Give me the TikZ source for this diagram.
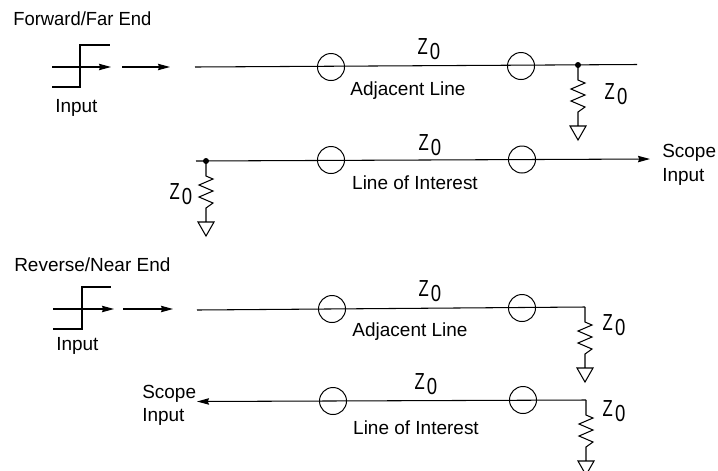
\documentclass[tikz,border=0pt]{standalone}
\usepackage{fontspec}
\setmainfont{Liberation Sans}
\usetikzlibrary{arrows.meta}
\newcommand{\zohm}{\scalebox{0.72}[1]{Z}\kern1.5pt\raisebox{-3.8pt}{\scalebox{0.8}[1]{0}}}
\tikzset{
  lbl/.style={font=\fontsize{13.5}{16}\selectfont,inner sep=0pt},
  zlbl/.style={font=\fontsize{16.5}{18}\selectfont,inner sep=0pt},
  tap/.style={circle,draw,line width=0.7pt,minimum size=0.675cm,inner sep=0pt},
  dot/.style={circle,fill,minimum size=0.15cm,inner sep=0pt},
  wire/.style={line width=0.75pt},
  feed/.style={line width=0.75pt,-{Stealth[length=0.3cm,width=0.16cm,inset=0.03cm]}},
  load/.pic={
    \draw[line width=0.75pt] (0,0)--++(0,15)--++(7,3)--++(-14,6)--++(14,6)--++(-14,6)--++(14,6)--++(-7,5)--++(0,14)
      ++(-8,0)--++(16,0)--++(-8,14)--cycle;
  }
}
\begin{document}
\begin{tikzpicture}[x=0.025cm,y=-0.025cm]
    \useasboundingbox (0,0) rectangle (718,470);
    % forward / far end
    \node[lbl,anchor=west] (titleA) at (13,19) {\scalebox{0.97}[1]{Forward/Far End}};
    \coordinate (stepAa) at (52,87);
    \coordinate (stepAb) at (110,45);
    \draw[wire] (stepAa)--(80,87)--(80,45)--(stepAb);
    \coordinate (inAa) at (52,67);
    \coordinate (inAb) at (111,67);
    \coordinate (inAc) at (122,67);
    \coordinate (inAd) at (170,67);
    \draw[feed] (inAa)--(inAb);
    \draw[feed] (inAc)--(inAd);
    \node[lbl,anchor=west] (inputA) at (55,108) {Input};

    \coordinate (adjAa) at (195,67);
    \coordinate (adjAb) at (637,64.5);
    \draw[wire] (adjAa)--(adjAb);
    \node[tap] (adjAl) at (331,67) {};
    \node[tap] (adjAr) at (521,66) {};
    \node[dot] (adjAd) at (578,65) {};
    \pic at (adjAd) {load};
    \node[zlbl] (zAa) at (429,49) {\zohm};
    \node[zlbl] (zAb) at (616,94) {\zohm};
    \node[lbl] (adjAt) at (408,91) {Adjacent Line};

    \coordinate (intAa) at (196,161);
    \coordinate (intAb) at (650,159);
    \draw[feed] (intAa)--(intAb);
    \node[tap] (intAl) at (331,160) {};
    \node[tap] (intAr) at (522,159.5) {};
    \node[dot] (intAd) at (206,161) {};
    \pic at (intAd) {load};
    \node[zlbl] (zAc) at (430,145) {\zohm};
    \node[zlbl] (zAd) at (181,194) {\zohm};
    \node[lbl] (intAt) at (415,183) {Line of Interest};
    \node[lbl,anchor=west] (scopeAa) at (662,153) {Scope};
    \node[lbl,anchor=west] (scopeAb) at (662,177) {Input};

    % reverse / near end
    \node[lbl,anchor=west] (titleB) at (14,265) {Reverse/Near End};
    \coordinate (stepBa) at (53,329);
    \coordinate (stepBb) at (111,287);
    \draw[wire] (stepBa)--(82,329)--(82,287)--(stepBb);
    \coordinate (inBa) at (53,309);
    \coordinate (inBb) at (114,309);
    \coordinate (inBc) at (123,309);
    \coordinate (inBd) at (173,309);
    \draw[feed] (inBa)--(inBb);
    \draw[feed] (inBc)--(inBd);
    \node[lbl,anchor=west] (inputB) at (56,346) {Input};

    \coordinate (adjBa) at (197,310);
    \coordinate (adjBb) at (585,307);
    \draw[wire] (adjBa)--(adjBb);
    \node[tap] (adjBl) at (332,309) {};
    \node[tap] (adjBr) at (522,308) {};
    \pic at (adjBb) {load};
    \node[zlbl] (zBa) at (430,291) {\zohm};
    \node[zlbl] (zBb) at (614,325) {\zohm};
    \node[lbl] (adjBt) at (410,332) {Adjacent Line};

    \coordinate (intBa) at (586,400);
    \coordinate (intBb) at (197,401.5);
    \draw[feed] (intBa)--(intBb);
    \node[tap] (intBl) at (333,401) {};
    \node[tap] (intBr) at (523,400) {};
    \pic at (intBa) {load};
    \node[zlbl] (zBc) at (426,384) {\zohm};
    \node[zlbl] (zBd) at (614,411) {\zohm};
    \node[lbl] (intBt) at (416,428) {Line of Interest};
    \node[lbl,anchor=west] (scopeBa) at (142,394) {Scope};
    \node[lbl,anchor=west] (scopeBb) at (142,417) {Input};
\end{tikzpicture}
\end{document}
